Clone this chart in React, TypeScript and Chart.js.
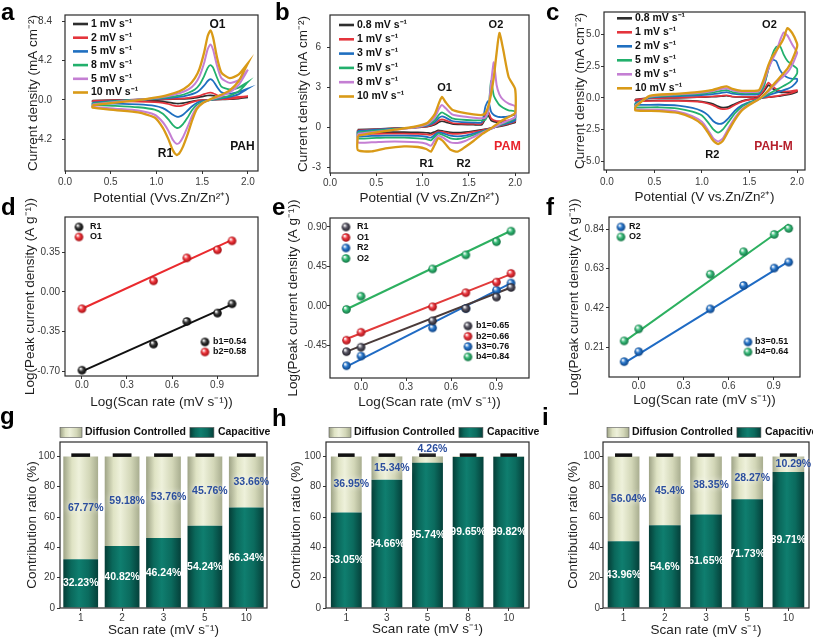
import React, { useEffect, useRef } from "react";
import { Chart, registerables } from "chart.js";

Chart.register(...registerables);
const FONT = "Arial, 'Liberation Sans', Helvetica, sans-serif";
Chart.defaults.font.family = FONT;

// ================= Panel a (PAH) =================
const A_FWD_V = [0.3, 0.5, 0.7, 0.9, 1.1, 1.25, 1.35, 1.42, 1.47, 1.52, 1.56, 1.59, 1.62, 1.66, 1.71, 1.8, 1.9, 2.0];
const A_REV_V = [2.0, 1.9, 1.8, 1.7, 1.6, 1.5, 1.44, 1.39, 1.34, 1.29, 1.25, 1.22, 1.18, 1.13, 1.07, 0.98, 0.8, 0.55, 0.3];
const A_LEGEND = ["1 mV s⁻¹", "2 mV s⁻¹", "5 mV s⁻¹", "8 mV s⁻¹", "5 mV s⁻¹", "10 mV s⁻¹"];
const A_FWD_1 = [-0.08, -0.04, 0, 0.01, 0.04, 0.08, 0.13, 0.2, 0.28, 0.38, 0.45, 0.47, 0.44, 0.32, 0.2, 0.16, 0.2, 0.25];
const A_REV_1 = [0.25, 0.13, 0.07, 0.03, 0, -0.03, -0.08, -0.16, -0.27, -0.36, -0.4, -0.4, -0.36, -0.28, -0.2, -0.15, -0.12, -0.11, -0.1];
const A_FWD_2 = [-0.12, -0.06, 0, 0.02, 0.06, 0.12, 0.2, 0.3, 0.42, 0.6, 0.72, 0.75, 0.7, 0.5, 0.3, 0.25, 0.3, 0.38];
const A_REV_2 = [0.38, 0.2, 0.1, 0.05, 0, -0.05, -0.12, -0.25, -0.42, -0.6, -0.68, -0.68, -0.6, -0.45, -0.33, -0.25, -0.2, -0.18, -0.16];
const A_FWD_3 = [-0.3, -0.15, -0.03, 0.03, 0.15, 0.3, 0.5, 0.7, 1.0, 1.5, 2.0, 2.2, 2.0, 1.4, 0.8, 0.65, 0.85, 1.2];
const A_REV_3 = [1.2, 0.6, 0.3, 0.12, 0, -0.15, -0.35, -0.7, -1.15, -1.6, -1.8, -1.8, -1.6, -1.25, -0.9, -0.65, -0.5, -0.42, -0.38];
const A_FWD_4 = [-0.4, -0.2, -0.05, 0.05, 0.25, 0.45, 0.75, 1.1, 1.6, 2.5, 3.4, 3.7, 3.4, 2.4, 1.4, 1.1, 1.3, 1.9];
const A_REV_4 = [1.9, 0.9, 0.45, 0.2, 0, -0.25, -0.55, -1.1, -1.9, -2.6, -2.95, -3.0, -2.7, -2.1, -1.5, -1.05, -0.8, -0.65, -0.55];
const A_FWD_5 = [-0.5, -0.28, -0.1, 0.08, 0.35, 0.7, 1.1, 1.7, 2.5, 3.9, 5.4, 5.9, 5.3, 3.7, 2.3, 1.8, 2.1, 3.2];
const A_REV_5 = [3.2, 1.6, 0.8, 0.35, 0.05, -0.35, -0.8, -1.7, -2.9, -4.0, -4.6, -4.7, -4.3, -3.3, -2.4, -1.6, -1.15, -0.95, -0.75];
const A_FWD_6 = [-0.6, -0.35, -0.15, 0.1, 0.45, 0.9, 1.5, 2.3, 3.3, 5.0, 6.8, 7.4, 6.6, 4.6, 2.9, 2.3, 2.7, 3.9];
const A_REV_6 = [3.9, 2.0, 1.0, 0.5, 0.1, -0.4, -1.0, -2.2, -3.7, -5.0, -5.7, -5.9, -5.4, -4.2, -3.0, -1.9, -1.35, -1.1, -0.85];
const A_YTICKS = [-4.2, 0, 4.2, 8.4];

// ================= Panel b (PAM) =================
const B_FWD_V = [0.3, 0.5, 0.7, 0.9, 1.05, 1.13, 1.18, 1.21, 1.25, 1.32, 1.42, 1.55, 1.64, 1.68, 1.71, 1.74, 1.77, 1.8, 1.83, 1.87, 1.93, 2.0];
const B_REV_V = [2.0, 1.93, 1.85, 1.75, 1.65, 1.55, 1.46, 1.38, 1.3, 1.22, 1.17, 1.13, 1.09, 1.04, 0.95, 0.8, 0.6, 0.45, 0.3];
const B_LEGEND = ["0.8 mV s⁻¹", "1 mV s⁻¹", "3 mV s⁻¹", "5 mV s⁻¹", "8 mV s⁻¹", "10 mV s⁻¹"];
const B_FWD_1 = [-0.15, -0.1, -0.04, 0.0, 0.08, 0.22, 0.42, 0.48, 0.42, 0.28, 0.24, 0.22, 0.22, 0.7, 0.9, 0.55, 0.45, 0.42, 0.42, 0.42, 0.45, 0.5];
const B_REV_1 = [0.38, 0.25, 0.12, -0.02, -0.14, -0.25, -0.33, -0.37, -0.35, -0.25, -0.2, -0.32, -0.42, -0.38, -0.36, -0.34, -0.34, -0.35, -0.38];
const B_FWD_2 = [-0.2, -0.12, -0.05, 0.0, 0.1, 0.3, 0.55, 0.62, 0.55, 0.35, 0.3, 0.28, 0.3, 1.0, 1.2, 0.7, 0.55, 0.5, 0.5, 0.5, 0.55, 0.65];
const B_REV_2 = [0.45, 0.3, 0.15, -0.03, -0.18, -0.32, -0.42, -0.47, -0.45, -0.32, -0.27, -0.42, -0.55, -0.5, -0.47, -0.45, -0.45, -0.47, -0.5];
const B_FWD_3 = [-0.25, -0.15, -0.07, 0.0, 0.15, 0.4, 0.75, 0.85, 0.75, 0.5, 0.42, 0.38, 0.4, 1.6, 2.0, 1.2, 0.95, 0.85, 0.8, 0.8, 0.85, 0.95];
const B_REV_3 = [0.55, 0.35, 0.2, -0.05, -0.25, -0.45, -0.6, -0.65, -0.6, -0.42, -0.35, -0.55, -0.75, -0.68, -0.62, -0.6, -0.6, -0.62, -0.65];
const B_FWD_4 = [-0.35, -0.22, -0.1, 0.0, 0.2, 0.55, 1.0, 1.15, 1.0, 0.7, 0.6, 0.55, 0.55, 0.6, 1.2, 3.5, 2.4, 2.0, 1.7, 1.5, 1.3, 1.2];
const B_REV_4 = [0.7, 0.45, 0.25, -0.05, -0.3, -0.55, -0.75, -0.85, -0.8, -0.55, -0.45, -0.7, -0.95, -0.85, -0.8, -0.75, -0.75, -0.78, -0.8];
const B_FWD_5 = [-0.45, -0.3, -0.15, 0.0, 0.25, 0.75, 1.45, 1.7, 1.45, 1.0, 0.85, 0.75, 0.7, 0.75, 1.3, 3.3, 4.9, 3.2, 2.5, 2.1, 1.8, 1.6];
const B_REV_5 = [0.8, 0.55, 0.3, -0.05, -0.35, -0.7, -1.0, -1.15, -1.1, -0.75, -0.6, -0.95, -1.35, -1.2, -1.1, -1.05, -1.05, -1.1, -1.1];
const B_FWD_6 = [-0.6, -0.35, -0.15, 0.05, 0.35, 1.0, 1.9, 2.3, 1.9, 1.35, 1.15, 1.0, 0.95, 1.1, 1.6, 2.5, 3.8, 5.6, 7.1, 5.9, 3.8, 2.9];
const B_REV_6 = [1.1, 0.8, 0.5, 0.0, -0.45, -1.0, -1.45, -1.8, -1.65, -1.0, -0.8, -1.3, -1.8, -1.6, -1.45, -1.4, -1.55, -1.78, -1.68];
const B_YTICKS = [-3, 0, 3, 6];

// ================= Panel c (PAH-M) =================
const C_FWD_V = [0.3, 0.45, 0.7, 0.95, 1.1, 1.2, 1.26, 1.32, 1.42, 1.52, 1.6, 1.65, 1.7, 1.74, 1.78, 1.82, 1.86, 1.9, 1.95, 2.0];
const C_REV_V = [2.0, 1.95, 1.9, 1.8, 1.7, 1.6, 1.5, 1.42, 1.35, 1.28, 1.22, 1.17, 1.12, 1.06, 1.0, 0.9, 0.75, 0.55, 0.3];
const C_LEGEND = ["0.8 mV s⁻¹", "1 mV s⁻¹", "2 mV s⁻¹", "5 mV s⁻¹", "8 mV s⁻¹", "10 mV s⁻¹"];
const C_FWD_1 = [-0.12, -0.03, 0.0, 0.04, 0.08, 0.12, 0.16, 0.08, 0.06, 0.06, 0.12, 0.5, 1.0, 0.75, 0.55, 0.45, 0.42, 0.42, 0.45, 0.5];
const C_REV_1 = [0.45, 0.33, 0.25, 0.12, 0.04, -0.04, -0.13, -0.26, -0.47, -0.72, -0.78, -0.68, -0.5, -0.38, -0.3, -0.24, -0.21, -0.21, -0.21];
const C_FWD_2 = [-0.15, -0.05, 0.0, 0.05, 0.1, 0.15, 0.2, 0.1, 0.08, 0.08, 0.15, 0.6, 1.2, 0.9, 0.7, 0.55, 0.5, 0.5, 0.55, 0.6];
const C_REV_2 = [0.55, 0.4, 0.3, 0.15, 0.05, -0.05, -0.15, -0.3, -0.55, -0.85, -0.9, -0.8, -0.6, -0.45, -0.35, -0.28, -0.25, -0.25, -0.25];
const C_FWD_3 = [-0.4, 0.0, 0.12, 0.2, 0.28, 0.38, 0.45, 0.32, 0.25, 0.25, 0.3, 0.9, 2.3, 3.0, 2.9, 2.2, 1.8, 1.6, 1.5, 1.5];
const C_REV_3 = [1.3, 0.9, 0.7, 0.45, 0.2, -0.1, -0.35, -0.6, -1.0, -1.6, -2.0, -2.05, -1.85, -1.35, -1.05, -0.8, -0.62, -0.55, -0.55];
const C_FWD_4 = [-0.5, 0.05, 0.2, 0.3, 0.4, 0.55, 0.6, 0.45, 0.35, 0.35, 0.4, 0.9, 2.3, 3.4, 4.0, 4.1, 3.4, 2.9, 2.6, 2.3];
const C_REV_4 = [1.9, 1.4, 1.1, 0.7, 0.3, -0.1, -0.4, -0.7, -1.2, -1.9, -2.5, -2.75, -2.5, -1.9, -1.4, -1.1, -0.85, -0.75, -0.75];
const C_FWD_5 = [-0.6, 0.1, 0.25, 0.38, 0.52, 0.7, 0.75, 0.6, 0.45, 0.45, 0.5, 1.2, 2.3, 3.0, 3.6, 4.5, 5.15, 4.9, 4.2, 3.6];
const C_REV_5 = [3.5, 2.6, 2.0, 1.3, 0.5, -0.1, -0.5, -0.9, -1.55, -2.4, -3.2, -3.45, -3.2, -2.5, -1.9, -1.45, -1.1, -0.95, -0.9];
const C_FWD_6 = [-0.7, 0.15, 0.3, 0.45, 0.6, 0.82, 0.9, 0.7, 0.55, 0.55, 0.6, 1.45, 2.6, 3.25, 3.7, 4.15, 4.7, 5.5, 5.1, 4.3];
const C_REV_6 = [4.0, 3.0, 2.3, 1.45, 0.6, -0.1, -0.55, -1.0, -1.7, -2.6, -3.4, -3.65, -3.4, -2.7, -2.1, -1.6, -1.2, -1.05, -1.0];
const C_YTICKS = [-5, -2.5, 0, 2.5, 5];

const CV_XTICKS = [0, 0.5, 1.0, 1.5, 2.0];
const CV_COLORS = ["#2e2e2e", "#e4343c", "#1f6fc0", "#22b06c", "#c47fd3", "#d99a17"];
const CV_WIDTHS = [1.7, 1.7, 1.8, 1.8, 2.0, 2.3];

// ================= Panel d =================
const D_X = [0, 0.477, 0.699, 0.903, 1.0];
const D_R1 = [-0.689, -0.459, -0.26, -0.186, -0.104];
const D_O1 = [-0.148, 0.098, 0.3, 0.37, 0.45];
const D_FIT_X = [0, 1.0];
const D_FIT_R1 = [-0.7, -0.11];
const D_FIT_O1 = [-0.148, 0.458];
const D_YTICKS = [-0.7, -0.35, 0, 0.35];

// ================= Panel e =================
const E_X = [-0.097, 0, 0.477, 0.699, 0.903, 1.0];
const E_R1 = [-0.52, -0.47, -0.17, -0.03, 0.1, 0.21];
const E_O1 = [-0.39, -0.3, -0.01, 0.15, 0.27, 0.37];
const E_R2 = [-0.68, -0.57, -0.25, -0.03, 0.18, 0.26];
const E_O2 = [-0.04, 0.11, 0.42, 0.58, 0.73, 0.85];
const E_FIT_X = [-0.097, 1.0];
const E_FIT_R1 = [-0.52, 0.209];
const E_FIT_O1 = [-0.376, 0.361];
const E_FIT_R2 = [-0.69, 0.258];
const E_FIT_O2 = [-0.038, 0.855];
const E_YTICKS = [-0.45, 0, 0.45, 0.9];

// ================= Panel f =================
const F_X = [-0.097, 0, 0.477, 0.699, 0.903, 1.0];
const F_R2 = [0.133, 0.186, 0.415, 0.54, 0.633, 0.665];
const F_O2 = [0.244, 0.308, 0.6, 0.72, 0.813, 0.845];
const F_FIT_X = [-0.097, 1.0];
const F_FIT_R2 = [0.125, 0.669];
const F_FIT_O2 = [0.24, 0.867];
const F_YTICKS = [0.21, 0.42, 0.63, 0.84];

const LOG_XTICKS = [0, 0.3, 0.6, 0.9];

// ================= Panels g, h, i =================
const G_CATS = ["1", "2", "3", "5", "10"];
const G_CAP = [32.23, 40.82, 46.24, 54.24, 66.34];
const G_DIF = [67.77, 59.18, 53.76, 45.76, 33.66];
const G_ERR = [2, 2, 2, 2, 2];
const H_CATS = ["1", "3", "5", "8", "10"];
const H_CAP = [63.05, 84.66, 95.74, 99.65, 99.82];
const H_DIF = [36.95, 15.34, 4.26, 0.35, 0.18];
const H_ERR = [2, 2, 2, 2, 2];
const I_CATS = ["1", "2", "3", "5", "10"];
const I_CAP = [43.96, 54.6, 61.65, 71.73, 89.71];
const I_DIF = [56.04, 45.4, 38.35, 28.27, 10.29];
const I_ERR = [2, 2, 2, 2, 2];
const PCT_YTICKS = [0, 20, 40, 60, 80, 100];

const CAP_STOPS: [number, string][] = [[0, "#053d36"], [0.22, "#0a685b"], [0.45, "#0f7e6f"], [0.72, "#0b6b5e"], [1, "#05403a"]];
const DIF_STOPS: [number, string][] = [[0, "#9ea386"], [0.25, "#dfe3c4"], [0.45, "#eef1db"], [0.75, "#d3d7b8"], [1, "#a8ad8f"]];

// ================= layout =================
const GEO: Record<string, { L: number; T: number; R: number; B: number }> = {
  a: { L: 65, T: 15, R: 258, B: 171 },
  b: { L: 330, T: 15, R: 529, B: 173 },
  c: { L: 604, T: 12, R: 805, B: 170 },
  d: { L: 65, T: 217, R: 258, B: 376 },
  e: { L: 330, T: 218, R: 529, B: 378 },
  f: { L: 609, T: 217, R: 800, B: 377 },
  g: { L: 60, T: 442, R: 267, B: 608 },
  h: { L: 326, T: 442, R: 529, B: 608 },
  i: { L: 603, T: 442, R: 809, B: 608 },
};
const ML = 70, MT = 32, MR = 14, MB = 52;

function loop(fv: number[], fi: number[], rv: number[], ri: number[]) {
  const pts = fv.map((x, j) => ({ x, y: fi[j] })).concat(rv.map((x, j) => ({ x, y: ri[j] })));
  pts.push({ ...pts[0] });
  return pts;
}
const pairs = (xs: number[], ys: number[]) => xs.map((x, j) => ({ x, y: ys[j] }));

function linAxis(min: number, max: number, ticks: number[], dec: number, size: number, pad: number, horizontal: boolean) {
  return {
    type: "linear",
    min,
    max,
    afterBuildTicks: (s: any) => {
      s.ticks = ticks.map((v) => ({ value: v }));
    },
    afterFit: (s: any) => {
      if (horizontal) s.height = MB;
      else s.width = ML;
    },
    ticks: {
      autoSkip: false,
      maxRotation: 0,
      padding: pad,
      color: "#3a3a3a",
      font: { size, family: FONT },
      callback: (v: any) => Number(v).toFixed(dec),
    },
    grid: { drawOnChartArea: false, drawTicks: true, tickLength: 3, color: "#333", lineWidth: 1 },
    border: { display: false },
  };
}

function framePlugin(o: { xTitle: string; yTitle: string; xOff: number; yOff: number; extra?: (chart: any, ctx: CanvasRenderingContext2D) => void }) {
  return {
    id: "frame",
    afterDraw(chart: any) {
      const ctx: CanvasRenderingContext2D = chart.ctx;
      const a = chart.chartArea;
      ctx.save();
      ctx.strokeStyle = "#2a2a2a";
      ctx.lineWidth = 1.2;
      ctx.strokeRect(a.left, a.top, a.right - a.left, a.bottom - a.top);
      ctx.fillStyle = "#1e1e1e";
      ctx.font = `13.5px ${FONT}`;
      ctx.textAlign = "center";
      ctx.textBaseline = "middle";
      ctx.fillText(o.xTitle, (a.left + a.right) / 2, a.bottom + o.xOff);
      ctx.translate(a.left - o.yOff, (a.top + a.bottom) / 2);
      ctx.rotate(-Math.PI / 2);
      ctx.fillText(o.yTitle, 0, 0);
      ctx.restore();
      if (o.extra) {
        ctx.save();
        o.extra(chart, ctx);
        ctx.restore();
      }
    },
  };
}

const baseOptions = () => ({
  animation: false,
  responsive: false,
  devicePixelRatio: 1,
  events: [],
  layout: { padding: { left: 0, top: MT, right: MR, bottom: 0 } },
  plugins: { legend: { display: false }, tooltip: { enabled: false } },
});

type Note = { text: string; x: number; y: number; color: string; size: number };

function cvChart(s: any) {
  const datasets = s.fwd.map((f: number[], k: number) => ({
    data: loop(s.fwdV, f, s.revV, s.rev[k]),
    showLine: true,
    fill: false,
    pointRadius: 0,
    pointHoverRadius: 0,
    borderColor: CV_COLORS[k],
    borderWidth: CV_WIDTHS[k],
    tension: 0.2,
    order: 10 - k,
  }));
  const extra = (chart: any, ctx: CanvasRenderingContext2D) => {
    const a = chart.chartArea, xs = chart.scales.x, ys = chart.scales.y;
    ctx.textAlign = "left";
    ctx.textBaseline = "middle";
    ctx.font = `bold 10.5px ${FONT}`;
    s.legend.forEach((t: string, k: number) => {
      const y = a.top + s.legDy + k * s.legStep;
      const x0 = a.left + s.legDx;
      ctx.strokeStyle = CV_COLORS[k];
      ctx.lineWidth = 2.6;
      ctx.beginPath();
      ctx.moveTo(x0, y);
      ctx.lineTo(x0 + 15, y);
      ctx.stroke();
      ctx.fillStyle = "#111";
      ctx.fillText(t, x0 + 18, y);
    });
    ctx.textAlign = "center";
    s.notes.forEach((n: Note) => {
      ctx.font = `bold ${n.size}px ${FONT}`;
      ctx.fillStyle = n.color;
      ctx.fillText(n.text, xs.getPixelForValue(n.x), ys.getPixelForValue(n.y));
    });
  };
  return {
    type: "scatter",
    data: { datasets },
    options: {
      ...baseOptions(),
      scales: {
        x: linAxis(s.xmin, s.xmax, CV_XTICKS, 1, 10, s.xPad, true),
        y: linAxis(s.ymin, s.ymax, s.yTicks, s.yDec, 10, s.yPad, false),
      },
    },
    plugins: [framePlugin({ xTitle: s.xTitle, yTitle: "Current density (mA cm⁻²)", xOff: s.xOff, yOff: s.yOff, extra })],
  };
}

function makeBall(c: string, dark: string, r = 4.3) {
  const sz = Math.ceil(r * 2 + 2);
  const cv = document.createElement("canvas");
  cv.width = sz;
  cv.height = sz;
  const g = cv.getContext("2d")!;
  const cx = sz / 2, cy = sz / 2;
  const gr = g.createRadialGradient(cx - r * 0.35, cy - r * 0.4, r * 0.1, cx, cy, r);
  gr.addColorStop(0, "#ffffff");
  gr.addColorStop(0.45, c);
  gr.addColorStop(1, dark);
  g.fillStyle = gr;
  g.beginPath();
  g.arc(cx, cy, r, 0, Math.PI * 2);
  g.fill();
  return cv;
}

function fitChart(s: any) {
  const balls = s.series.map((q: any) => makeBall(q.ball, q.dark));
  const pointSets = s.series.map((q: any, k: number) => ({
    data: pairs(s.xs, q.y),
    showLine: false,
    pointStyle: balls[k],
    pointRadius: 4.3,
    pointHoverRadius: 4.3,
  }));
  const lineSets = s.series.map((q: any) => ({
    data: pairs(s.fitX, q.fit),
    showLine: true,
    pointRadius: 0,
    borderColor: q.line,
    borderWidth: 2,
    fill: false,
  }));
  const extra = (chart: any, ctx: CanvasRenderingContext2D) => {
    const a = chart.chartArea;
    ctx.font = `bold 9px ${FONT}`;
    ctx.textAlign = "left";
    ctx.textBaseline = "middle";
    ctx.fillStyle = "#111";
    const draw = (L: any, key: string) => {
      s.series.forEach((q: any, k: number) => {
        const x = a.left + L.dx, y = a.top + L.dy + k * L.step;
        const b = balls[k];
        ctx.drawImage(b, x - b.width / 2, y - b.height / 2);
        ctx.fillText(q[key], x + L.tx, y);
      });
    };
    draw(s.tl, "name");
    draw(s.br, "bName");
  };
  return {
    type: "scatter",
    data: { datasets: [...pointSets, ...lineSets] },
    options: {
      ...baseOptions(),
      scales: {
        x: linAxis(s.xmin, s.xmax, LOG_XTICKS, 1, 10, s.xPad, true),
        y: linAxis(s.ymin, s.ymax, s.yTicks, 2, 10, s.yPad, false),
      },
    },
    plugins: [framePlugin({ xTitle: "Log(Scan rate (mV s⁻¹))", yTitle: "Log(Peak current density (A g⁻¹))", xOff: s.xOff, yOff: s.yOff, extra })],
  };
}

function barGrad(stops: [number, string][], pct: number) {
  return (c: any) => {
    const ch = c.chart;
    const xs = ch.scales && ch.scales.x;
    if (c.type !== "data" || !ch.chartArea || !xs) return stops[2][1];
    const cx = xs.getPixelForValue(c.dataIndex);
    const w = (xs.width / ch.data.labels.length) * pct;
    const g = ch.ctx.createLinearGradient(cx - w / 2, 0, cx + w / 2, 0);
    stops.forEach(([o, col]) => g.addColorStop(o, col));
    return g;
  };
}

function patch(ctx: CanvasRenderingContext2D, x: number, y: number, w: number, h: number, stops: [number, string][]) {
  const g = ctx.createLinearGradient(x, 0, x + w, 0);
  stops.forEach(([o, col]) => g.addColorStop(o, col));
  ctx.fillStyle = g;
  ctx.fillRect(x, y, w, h);
  ctx.strokeStyle = "#555";
  ctx.lineWidth = 0.6;
  ctx.strokeRect(x, y, w, h);
}

function barChart(s: any) {
  const extra = (chart: any, ctx: CanvasRenderingContext2D) => {
    const a = chart.chartArea, ys = chart.scales.y;
    const meta = chart.getDatasetMeta(1);
    meta.data.forEach((bar: any, i: number) => {
      const total = s.cap[i] + s.dif[i];
      const top = ys.getPixelForValue(total);
      const capTop = ys.getPixelForValue(total + s.err[i]);
      const w = bar.width * 0.54;
      ctx.fillStyle = "#111";
      ctx.fillRect(bar.x - w / 2, capTop, w, top - capTop + 0.5);
      ctx.textAlign = "center";
      ctx.textBaseline = "middle";
      ctx.font = `bold 10.5px ${FONT}`;
      ctx.fillStyle = "#ffffff";
      ctx.fillText(`${s.cap[i]}%`, bar.x, ys.getPixelForValue(s.cap[i] / 2));
      let ly: number | null = null;
      if (s.dif[i] >= 5) ly = ys.getPixelForValue(s.cap[i] + s.dif[i] / 2);
      else if (s.dif[i] >= 1) ly = ys.getPixelForValue(total + s.err[i] + 2.6);
      if (ly !== null) {
        ctx.save();
        ctx.shadowColor = "rgba(255,255,255,0.95)";
        ctx.shadowBlur = 6;
        ctx.fillStyle = "#2b4e9e";
        ctx.fillText(`${s.dif[i]}%`, bar.x + 5, ly);
        ctx.restore();
      }
    });
    // legend above the plot
    const y = a.top - 9.5;
    let x = a.left + s.legDx;
    ctx.font = `bold 10.5px ${FONT}`;
    ctx.textAlign = "left";
    ctx.textBaseline = "middle";
    patch(ctx, x, y - 5, 22, 10, DIF_STOPS);
    x += 25;
    ctx.fillStyle = "#111";
    ctx.fillText("Diffusion Controlled", x, y);
    x += ctx.measureText("Diffusion Controlled").width + 4;
    patch(ctx, x, y - 5, 24, 10, CAP_STOPS);
    x += 28;
    ctx.fillStyle = "#111";
    ctx.fillText("Capacitive", x, y);
  };
  return {
    type: "bar",
    data: {
      labels: s.cats,
      datasets: [
        { label: "Capacitive", data: s.cap, backgroundColor: barGrad(CAP_STOPS, s.pct), barPercentage: s.pct, categoryPercentage: 1, borderWidth: 0 },
        { label: "Diffusion Controlled", data: s.dif, backgroundColor: barGrad(DIF_STOPS, s.pct), barPercentage: s.pct, categoryPercentage: 1, borderWidth: 0 },
      ],
    },
    options: {
      ...baseOptions(),
      scales: {
        x: {
          type: "category",
          stacked: true,
          afterFit: (sc: any) => {
            sc.height = MB;
          },
          ticks: { padding: s.xPad, color: "#3a3a3a", font: { size: 10, family: FONT }, maxRotation: 0 },
          grid: { drawOnChartArea: false, drawTicks: true, tickLength: 3, color: "#333", offset: false },
          border: { display: false },
        },
        y: { ...linAxis(0, 109.5, PCT_YTICKS, 0, 10, s.yPad, false), stacked: true },
      },
    },
    plugins: [framePlugin({ xTitle: "Scan rate (mV s⁻¹)", yTitle: "Contribution ratio (%)", xOff: s.xOff, yOff: s.yOff, extra })],
  };
}

const PANELS = [
  {
    g: GEO.a,
    make: () =>
      cvChart({
        fwdV: A_FWD_V, revV: A_REV_V,
        fwd: [A_FWD_1, A_FWD_2, A_FWD_3, A_FWD_4, A_FWD_5, A_FWD_6],
        rev: [A_REV_1, A_REV_2, A_REV_3, A_REV_4, A_REV_5, A_REV_6],
        legend: A_LEGEND, xmin: 0, xmax: 2.11, ymin: -7.6, ymax: 9.04, yTicks: A_YTICKS, yDec: 1, yPad: 10, xPad: 2,
        xTitle: "Potential (Vvs.Zn/Zn²⁺)", xOff: 27, yOff: 32, legDx: 8, legDy: 9, legStep: 13.7,
        notes: [
          { text: "O1", x: 1.667, y: 7.97, color: "#111", size: 12 },
          { text: "R1", x: 1.098, y: -5.74, color: "#111", size: 12 },
          { text: "PAH", x: 1.94, y: -5.0, color: "#111", size: 12 },
        ],
      }),
  },
  {
    g: GEO.b,
    make: () =>
      cvChart({
        fwdV: B_FWD_V, revV: B_REV_V,
        fwd: [B_FWD_1, B_FWD_2, B_FWD_3, B_FWD_4, B_FWD_5, B_FWD_6],
        rev: [B_REV_1, B_REV_2, B_REV_3, B_REV_4, B_REV_5, B_REV_6],
        legend: B_LEGEND, xmin: 0, xmax: 2.15, ymin: -3.4, ymax: 8.45, yTicks: B_YTICKS, yDec: 0, yPad: 6, xPad: 1,
        xTitle: "Potential (V vs.Zn/Zn²⁺)", xOff: 25, yOff: 27, legDx: 9, legDy: 10, legStep: 14.3,
        notes: [
          { text: "O2", x: 1.793, y: 7.7, color: "#111", size: 11 },
          { text: "O1", x: 1.237, y: 2.98, color: "#111", size: 11 },
          { text: "R1", x: 1.043, y: -2.72, color: "#111", size: 11 },
          { text: "R2", x: 1.443, y: -2.72, color: "#111", size: 11 },
          { text: "PAM", x: 1.918, y: -1.45, color: "#e8232b", size: 12.5 },
        ],
      }),
  },
  {
    g: GEO.c,
    make: () =>
      cvChart({
        fwdV: C_FWD_V, revV: C_REV_V,
        fwd: [C_FWD_1, C_FWD_2, C_FWD_3, C_FWD_4, C_FWD_5, C_FWD_6],
        rev: [C_REV_1, C_REV_2, C_REV_3, C_REV_4, C_REV_5, C_REV_6],
        legend: C_LEGEND, xmin: -0.03, xmax: 2.084, ymin: -5.7, ymax: 6.77, yTicks: C_YTICKS, yDec: 1, yPad: 1, xPad: 3,
        xTitle: "Potential (V vs.Zn/Zn²⁺)", xOff: 27, yOff: 23.5, legDx: 13, legDy: 6.3, legStep: 14,
        notes: [
          { text: "O2", x: 1.71, y: 5.74, color: "#111", size: 11 },
          { text: "R2", x: 1.11, y: -4.52, color: "#111", size: 11 },
          { text: "PAH-M", x: 1.753, y: -3.87, color: "#b51f2b", size: 12 },
        ],
      }),
  },
  {
    g: GEO.d,
    make: () =>
      fitChart({
        xs: D_X, fitX: D_FIT_X, xmin: -0.113, xmax: 1.173, ymin: -0.74, ymax: 0.66, yTicks: D_YTICKS, yPad: 2, xPad: 0,
        xOff: 26, yOff: 35,
        series: [
          { y: D_R1, fit: D_FIT_R1, ball: "#3a3a3a", dark: "#000000", line: "#111111", name: "R1", bName: "b1=0.54" },
          { y: D_O1, fit: D_FIT_O1, ball: "#f0353b", dark: "#a00d12", line: "#ea2a2e", name: "O1", bName: "b2=0.58" },
        ],
        tl: { dx: 14, dy: 10, step: 10, tx: 11 },
        br: { dx: 140, dy: 125, step: 10, tx: 8 },
      }),
  },
  {
    g: GEO.e,
    make: () =>
      fitChart({
        xs: E_X, fitX: E_FIT_X, xmin: -0.207, xmax: 1.12, ymin: -0.82, ymax: 1.0, yTicks: E_YTICKS, yPad: 0, xPad: 0,
        xOff: 24, yOff: 36.5,
        series: [
          { y: E_R1, fit: E_FIT_R1, ball: "#5a5866", dark: "#1e1c26", line: "#4a3b3a", name: "R1", bName: "b1=0.65" },
          { y: E_O1, fit: E_FIT_O1, ball: "#ec3a42", dark: "#9e1016", line: "#e23a3a", name: "O1", bName: "b2=0.66" },
          { y: E_R2, fit: E_FIT_R2, ball: "#2a78cc", dark: "#0b3f80", line: "#1f6bc4", name: "R2", bName: "b3=0.76" },
          { y: E_O2, fit: E_FIT_O2, ball: "#36bb76", dark: "#0f7040", line: "#2db060", name: "O2", bName: "b4=0.84" },
        ],
        tl: { dx: 16, dy: 9, step: 10.5, tx: 11 },
        br: { dx: 138, dy: 108, step: 10.3, tx: 8 },
      }),
  },
  {
    g: GEO.f,
    make: () =>
      fitChart({
        xs: F_X, fitX: F_FIT_X, xmin: -0.198, xmax: 1.075, ymin: 0.051, ymax: 0.906, yTicks: F_YTICKS, yPad: 2, xPad: 0,
        xOff: 23, yOff: 35,
        series: [
          { y: F_R2, fit: F_FIT_R2, ball: "#2a78cc", dark: "#0b3f80", line: "#1f6bc4", name: "R2", bName: "b3=0.51" },
          { y: F_O2, fit: F_FIT_O2, ball: "#3cbd7c", dark: "#0f7040", line: "#2db060", name: "O2", bName: "b4=0.64" },
        ],
        tl: { dx: 12, dy: 10, step: 10, tx: 8 },
        br: { dx: 139, dy: 125, step: 10, tx: 7 },
      }),
  },
  {
    g: GEO.g,
    make: () => barChart({ cats: G_CATS, cap: G_CAP, dif: G_DIF, err: G_ERR, pct: 0.84, xOff: 22, yOff: 28, yPad: 2, xPad: 1, legDx: 0 }),
  },
  {
    g: GEO.h,
    make: () => barChart({ cats: H_CATS, cap: H_CAP, dif: H_DIF, err: H_ERR, pct: 0.76, xOff: 21, yOff: 30, yPad: 2, xPad: 1.5, legDx: 3 }),
  },
  {
    g: GEO.i,
    make: () => barChart({ cats: I_CATS, cap: I_CAP, dif: I_DIF, err: I_ERR, pct: 0.77, xOff: 22, yOff: 30, yPad: 0, xPad: 1.5, legDx: 4 }),
  },
];

const LETTERS = [
  { t: "a", x: 1, base: 20 },
  { t: "b", x: 275, base: 20 },
  { t: "c", x: 546, base: 20 },
  { t: "d", x: 1, base: 215 },
  { t: "e", x: 272, base: 215 },
  { t: "f", x: 546, base: 215 },
  { t: "g", x: 0, base: 424 },
  { t: "h", x: 272, base: 426 },
  { t: "i", x: 542, base: 425 },
];

export default function App() {
  const refs = useRef<(HTMLCanvasElement | null)[]>([]);
  useEffect(() => {
    const charts = PANELS.map((p, k) => new Chart(refs.current[k] as HTMLCanvasElement, p.make() as any));
    return () => charts.forEach((c) => c.destroy());
  }, []);
  return (
    <div style={{ position: "fixed", left: 0, top: 0, width: 813, height: 642, overflow: "hidden", background: "#fff" }}>
      {PANELS.map((p, k) => {
        const w = p.g.R - p.g.L + ML + MR;
        const h = p.g.B - p.g.T + MT + MB;
        return (
          <canvas
            key={k}
            ref={(el) => {
              refs.current[k] = el;
            }}
            width={w}
            height={h}
            style={{ position: "absolute", left: p.g.L - ML, top: p.g.T - MT, width: w, height: h }}
          />
        );
      })}
      {LETTERS.map((l) => (
        <div
          key={l.t}
          style={{ position: "absolute", left: l.x, top: l.base - 20, font: `bold 24px ${FONT}`, lineHeight: "24px", color: "#000" }}
        >
          {l.t}
        </div>
      ))}
    </div>
  );
}
